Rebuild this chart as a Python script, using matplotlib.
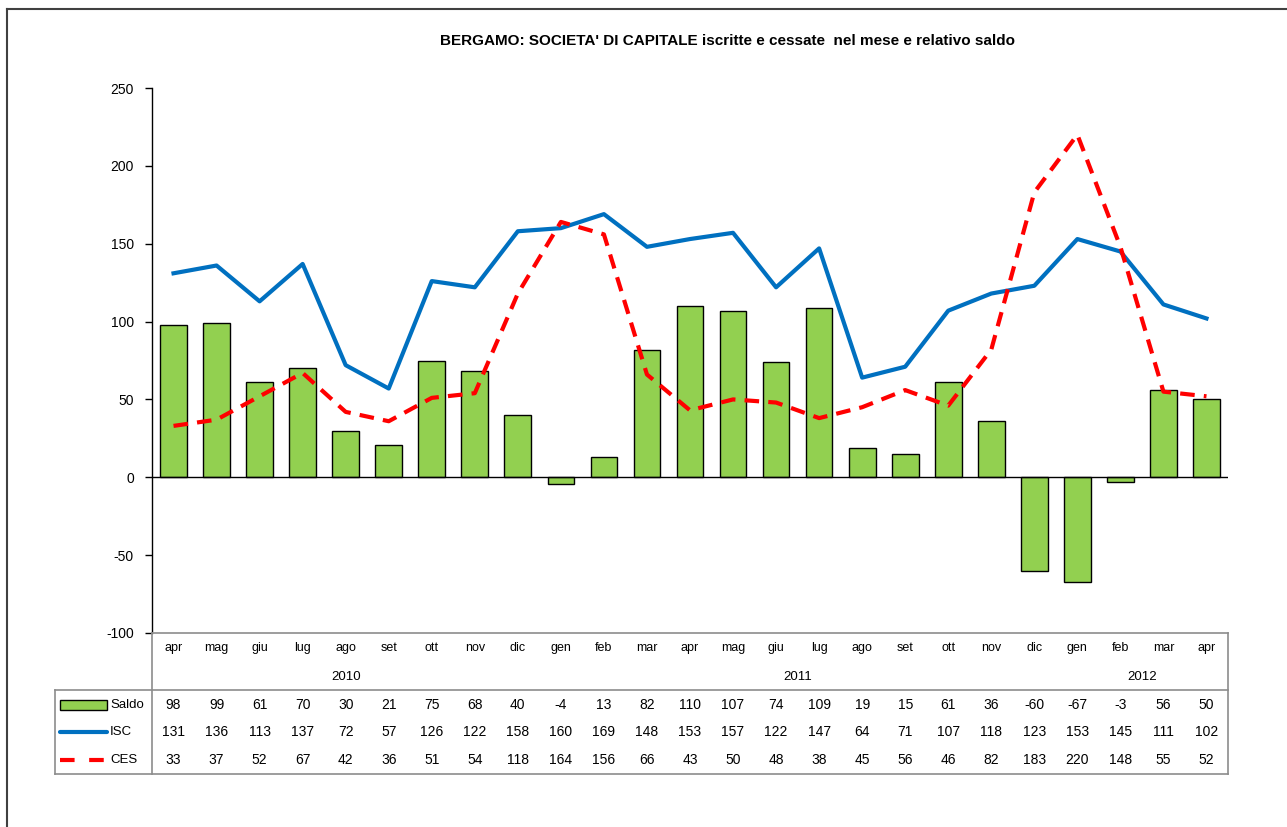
import matplotlib
matplotlib.use("Agg")
import matplotlib.pyplot as plt
from matplotlib.lines import Line2D
from matplotlib.patches import Rectangle
import numpy as np

months = ["apr", "mag", "giu", "lug", "ago", "set", "ott", "nov", "dic",
          "gen", "feb", "mar", "apr", "mag", "giu", "lug", "ago", "set", "ott", "nov", "dic",
          "gen", "feb", "mar", "apr"]
years = ["2010", "2011", "2012"]
year_spans = [(0, 8), (9, 20), (21, 24)]
saldo = [98, 99, 61, 70, 30, 21, 75, 68, 40, -4, 13, 82, 110, 107, 74, 109, 19, 15, 61, 36, -60, -67, -3, 56, 50]
isc = [131, 136, 113, 137, 72, 57, 126, 122, 158, 160, 169, 148, 153, 157, 122, 147, 64, 71, 107, 118, 123, 153, 145, 111, 102]
ces = [33, 37, 52, 67, 42, 36, 51, 54, 118, 164, 156, 66, 43, 50, 48, 38, 45, 56, 46, 82, 183, 220, 148, 55, 52]
title = "BERGAMO: SOCIETA' DI CAPITALE iscritte e cessate  nel mese e relativo saldo"

W, H = 1287, 827
plt.rcParams['font.family'] = ['Liberation Sans', 'DejaVu Sans']
plt.rcParams['axes.unicode_minus'] = False
fig = plt.figure(figsize=(W / 100, H / 100), dpi=100)

def fx(px):
    return px / W

def fy(py):
    return 1 - py / H

GREEN = "#92D050"
BLUE = "#0070C0"
RED = "#FF0000"
GRAY = "#8c8c8c"

x = np.arange(len(months))
ax_l, ax_r, ax_t, ax_b = 152, 1228, 88, 633
ax = fig.add_axes([fx(ax_l), fy(ax_b), fx(ax_r - ax_l), (ax_b - ax_t) / H])
ax.bar(x, saldo, width=0.62, color=GREEN, edgecolor="black", linewidth=1.0, zorder=2)
ax.plot(x, isc, color=BLUE, lw=3, zorder=3, solid_joinstyle="round")
ax.plot(x, ces, color=RED, lw=3, dashes=(3.5, 2.2), zorder=3)
ax.axhline(0, color="black", lw=1.0, zorder=4)
ax.set_xlim(-0.5, len(months) - 0.5)
ax.set_ylim(-100, 250)
ax.set_yticks(np.arange(-100, 251, 50))
ax.set_xticks([])
for s in ["top", "right", "bottom"]:
    ax.spines[s].set_visible(False)
ax.spines["left"].set_linewidth(1.0)
ax.tick_params(axis="y", direction="out", length=5, width=1, labelsize=10, pad=8)

# title
fig.text(fx(727), fy(41), title, ha="center", va="center", fontsize=11, fontweight="bold")

# table axes
tl = 55
ppu = (ax_r - ax_l) / len(months)
xl0 = -0.5 - (ax_l - tl) / ppu
tax = fig.add_axes([fx(tl), fy(774), fx(ax_r - tl), (774 - 633) / H])
tax.set_xlim(xl0, len(months) - 0.5)
tax.set_ylim(774, 633)
tax.axis("off")

lc = dict(color=GRAY, lw=1.2, clip_on=False)
tax.plot([-0.5, len(months) - 0.5], [633, 633], **lc)
tax.plot([-0.5, -0.5], [633, 774], **lc)
tax.plot([len(months) - 0.5] * 2, [633, 774], **lc)
tax.plot([xl0, len(months) - 0.5], [690, 690], **lc)
tax.plot([xl0, xl0], [690, 774], **lc)
tax.plot([xl0, len(months) - 0.5], [774, 774], **lc)

for i, m in enumerate(months):
    tax.text(i, 648, m, ha="center", va="center", fontsize=9)
for yl, (a, b) in zip(years, year_spans):
    tax.text((a + b) / 2, 677, yl, ha="center", va="center", fontsize=9.5)

rows = [("Saldo", saldo, 705), ("ISC", isc, 732), ("CES", ces, 760)]
for name, vals, yy in rows:
    for i, v in enumerate(vals):
        tax.text(i, yy, str(v), ha="center", va="center", fontsize=10)

# legend keys in table
k0 = xl0 + (60 - tl) / ppu
k1 = xl0 + (107 - tl) / ppu
tax.add_patch(Rectangle((k0, 700), k1 - k0, 10, facecolor=GREEN, edgecolor="black", lw=1.0, clip_on=False))
tax.plot([k0, k1], [732, 732], color=BLUE, lw=3, clip_on=False, solid_capstyle="round")
tax.plot([k0, k1], [760, 760], color=RED, lw=3, dashes=(3.5, 3.5), clip_on=False)
lab_x = xl0 + (110 - tl) / ppu
for name, vals, yy in rows:
    tax.text(lab_x, yy, name, ha="left", va="center", fontsize=9.5)

# outer frame (left and top edges visible)
fig.add_artist(Line2D([fx(7), fx(7)], [fy(9), 0], color="#404040", lw=1.5))
fig.add_artist(Line2D([fx(7), 1], [fy(9), fy(9)], color="#404040", lw=1.5))

fig.savefig("out.png", dpi=100)
